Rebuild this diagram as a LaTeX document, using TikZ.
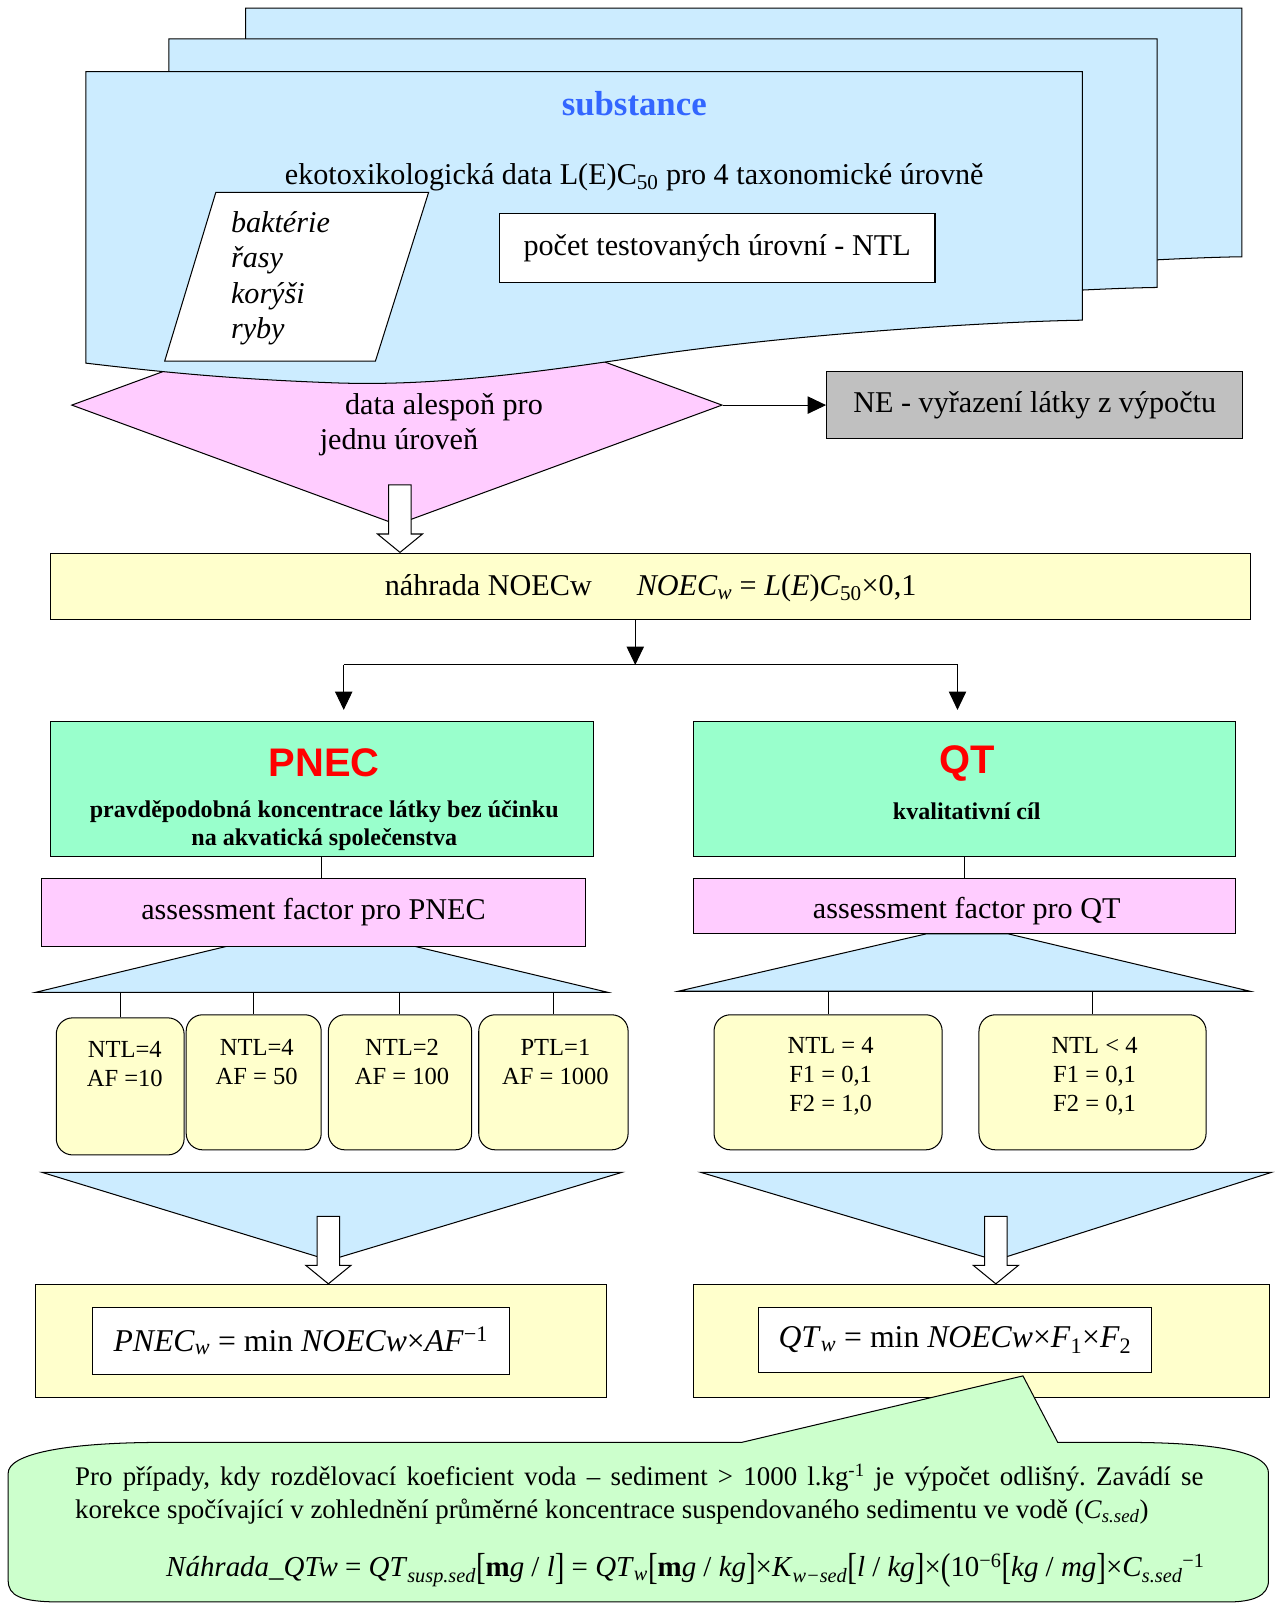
\documentclass[tikz,border=0pt]{standalone}
\usepackage{fontspec}
\usepackage{graphicx}
\setmainfont{Liberation Serif}
\newfontfamily\arialfont{Liberation Sans}
\usetikzlibrary{positioning, arrows.meta, shapes.geometric}

\definecolor{pagebl}{HTML}{CCECFF}
\definecolor{decpink}{HTML}{FFCCFF}
\definecolor{negray}{HTML}{C0C0C0}
\definecolor{resyel}{HTML}{FFFFCC}
\definecolor{titgreen}{HTML}{99FFCC}
\definecolor{notegreen}{HTML}{CCFFCC}
\definecolor{subblue}{HTML}{3366FF}

\newcommand{\bodysize}{\fontsize{29.5}{34.5}\selectfont}
\newcommand{\substsize}{\fontsize{34}{40}\selectfont}
\newcommand{\titlesize}{\fontsize{39}{44}\selectfont}
\newcommand{\subsize}{\fontsize{23.5}{27}\selectfont}
\newcommand{\cellsize}{\fontsize{24}{28}\selectfont}
\newcommand{\notesize}{\fontsize{26.3}{32}\selectfont}
\newcommand{\eqsize}{\fontsize{31}{36}\selectfont}
\newcommand{\noteqsize}{\fontsize{28.3}{34}\selectfont}
\newcommand{\tallbr}[1]{\raisebox{-0.08em}{\scalebox{1}[1.3]{#1}}}

\begin{document}
\begin{tikzpicture}[
x=1pt, y=-1pt, line width=1pt,
font=\bodysize,
box/.style={rectangle, draw, inner sep=2pt, align=center},
rbox/.style={rectangle, draw, fill=resyel, rounded corners=16pt},
arrow/.style={-{Triangle[length=18pt, width=17pt]}},
fan/.style={draw, fill=pagebl},
headline/.style={font=\arialfont\bfseries\titlesize, text=red},
subline/.style={font=\bfseries\subsize, align=center},
cell/.style={font=\cellsize, align=center},
docpage/.pic={\draw[fill=pagebl] (0,0) -- (974,0) -- (974,243)
  .. controls (900,244) and (700,255) .. (541,279)
  .. controls (420,297) and (330,308) .. (236,304)
  .. controls (130,300) and (60,292) .. (0,285) -- cycle;},
hollowarrow/.pic={\draw[fill=white] (-11,0) -- (-11,48) -- (-22,48) -- (0,66)
  -- (22,48) -- (11,48) -- (11,0) -- cycle;}
]
\useasboundingbox (0,0) rectangle (1246,1568);

% decision, half hidden by the pages
\node[diamond, draw, fill=decpink, minimum width=636pt, minimum height=234pt, inner sep=0pt] (chk) at (388,396) {};

% stacked substance pages
\pic at (240,8) {docpage};
\pic[xscale=0.992] at (165,38) {docpage};
\pic at (84,70) {docpage};

\node[font=\bfseries\substsize, text=subblue] (subst) at (620,101) {substance};
\node (ecotox) at (620,173) {ekotoxikologická data L(E)C\textsubscript{50} pro 4 taxonomické úrovně};
\draw[fill=white] (211,188) -- (419,188) -- (367,353) -- (161,353) -- cycle;
\node[font=\bodysize\itshape, align=left, anchor=west] (taxa) at (222,272) {baktérie\\řasy\\korýši\\ryby};
\node[box, fill=white, minimum width=426pt, minimum height=67pt] (ntl) at (701,242.5) {počet testovaných úrovní - NTL};

\node (chk1) at (434,398) {data alespoň pro};
\node (chk2) at (390,432) {jednu úroveň};

\node[box, fill=negray, minimum width=407pt, minimum height=66pt] (ne) at (1011.5,396) {NE - vyřazení látky z výpočtu};
\draw[arrow] (chk.east) -- (ne.west);

\pic at (391,474) {hollowarrow};

% NOEC
\node[box, fill=resyel, minimum width=1173pt, minimum height=65pt] (noec) at (635.5,573.5) {};
\node (noect) at (636,575)
  {náhrada NOECw\hspace{44pt}\textit{NOEC}\textsubscript{\textit{w}} = \textit{L}(\textit{E})\textit{C}\textsubscript{50}×0,1};

\coordinate (split) at (621,650);
\coordinate (lsplit) at (336,650);
\coordinate (rsplit) at (936,650);
\coordinate (pin) at (336,694);
\coordinate (qin) at (936,694);
\draw[arrow] (noec.south -| split) -- (split);
\draw (lsplit) -- (rsplit);
\draw[arrow] (lsplit) -- (pin);
\draw[arrow] (rsplit) -- (qin);

% PNEC / QT headers
\node[box, fill=titgreen, minimum width=531pt, minimum height=132pt] (pnec) at (314.5,771) {};
\node[headline] (pnect) at (317,746) {PNEC};
\node[subline] (pnecs) at (317,807) {pravděpodobná koncentrace látky bez účinku\\na akvatická společenstva};
\node[box, fill=titgreen, minimum width=530pt, minimum height=132pt] (qt) at (943,771) {};
\node[headline] (qtt) at (945,746) {QT};
\node[subline] (qts) at (945,793) {kvalitativní cíl};

% fans
\draw[fan] (222,925) -- (405,925) -- (594,970) -- (35,970) -- cycle;
\draw[fan] (905,913) -- (986,913) -- (1222,969) -- (663,969) -- cycle;
\coordinate (pfan) at (0,970);
\coordinate (qfan) at (0,969);

\node[box, fill=decpink, minimum width=531pt, minimum height=66pt] (afp) at (306.5,892) {assessment factor pro PNEC};
\node[box, fill=decpink, minimum width=530pt, minimum height=54pt] (afq) at (943,886) {};
\node (afqt) at (945,891) {assessment factor pro QT};
\draw (pnec.south) -- (pnec.south |- afp.north);
\draw (qt.south) -- (qt.south |- afq.north);

% factor cells
\node[rbox, minimum width=125pt, minimum height=134pt] (p1) at (117.5,1062) {};
\node[rbox, minimum width=132pt, minimum height=132pt] (p2) at (248,1058) {};
\node[rbox, minimum width=140pt, minimum height=132pt] (p3) at (391,1058) {};
\node[rbox, minimum width=146pt, minimum height=132pt] (p4) at (541,1058) {};
\node[rbox, minimum width=223pt, minimum height=132pt] (q1) at (809.5,1058) {};
\node[rbox, minimum width=222pt, minimum height=132pt] (q2) at (1068,1058) {};
\node[cell] (p1t) at (122,1040) {NTL=4\\AF =10};
\node[cell] (p2t) at (251,1038) {NTL=4\\AF = 50};
\node[cell] (p3t) at (393,1038) {NTL=2\\AF = 100};
\node[cell] (p4t) at (543,1038) {PTL=1\\AF = 1000};
\node[cell] (q1t) at (812,1052) {NTL = 4\\F1 = 0,1\\F2 = 1,0};
\node[cell] (q2t) at (1070,1052) {NTL < 4\\F1 = 0,1\\F2 = 0,1};
\foreach \b in {p1,p2,p3,p4} \draw (\b.north) -- (\b.north |- pfan);
\foreach \b in {q1,q2} \draw (\b.north) -- (\b.north |- qfan);

% lower fans
\draw[fan] (41,1146) -- (608,1146) -- (322,1232) -- cycle;
\draw[fan] (685,1146) -- (1243,1146) -- (973,1232) -- cycle;

% results
\node[box, fill=resyel, minimum width=558pt, minimum height=110pt] (pres) at (314,1311) {};
\node[box, fill=white, minimum width=408pt, minimum height=66pt, font=\eqsize] (pform) at (294,1311)
  {\textit{PNEC}\textsubscript{\textit{w}} = min \textit{NOECw}×\textit{AF}\textsuperscript{−1}};
\node[box, fill=resyel, minimum width=563pt, minimum height=110pt] (qres) at (959.5,1311) {};
\node[box, fill=white, minimum width=385pt, minimum height=64pt, font=\eqsize] (qform) at (933.5,1310)
  {\textit{QT}\textsubscript{\textit{w}} = min \textit{NOECw}×\textit{F}\textsubscript{1}×\textit{F}\textsubscript{2}};
\pic at (321,1189) {hollowarrow};
\pic at (973.5,1189) {hollowarrow};

% note callout
\draw[fill=notegreen] (160,1410) -- (725,1410) -- (1000,1345) -- (1034,1410) -- (1100,1410)
  .. controls (1200,1410) and (1240,1422) .. (1240,1440) -- (1240,1545)
  .. controls (1240,1560) and (1225,1566) .. (1200,1566) -- (60,1566)
  .. controls (20,1566) and (8,1560) .. (8,1545) -- (8,1440)
  .. controls (8,1422) and (60,1410) .. (160,1410) -- cycle;
\node[font=\notesize, text width=1103pt, align=justify, inner sep=0pt, anchor=base west] (note) at (73,1452)
  {\frenchspacing\tolerance=3000 Pro případy, kdy rozdělovací koeficient voda – sediment > 1000 l.kg\textsuperscript{-1} je výpočet odlišný. Zavádí se\linebreak korekce spočívající v zohlednění průměrné koncentrace suspendovaného sedimentu ve vodě (\textit{C}\textsubscript{\textit{s.sed}})};
\node[font=\noteqsize] (qsed) at (670,1535)
  {\textit{Náhrada\_QTw} = \textit{QT}\textsubscript{\textit{susp.sed}}\tallbr{[}\textbf{m}\textit{g} / \textit{l}\tallbr{]} = \textit{QT}\textsubscript{\textit{w}}\tallbr{[}\textbf{m}\textit{g} / \textit{kg}\tallbr{]}×\textit{K}\textsubscript{\textit{w−sed}}\tallbr{[}\textit{l} / \textit{kg}\tallbr{]}×\tallbr{(}10\textsuperscript{−6}\tallbr{[}\textit{kg} / \textit{mg}\tallbr{]}×\textit{C}\textsubscript{\textit{s.sed}}\textsuperscript{−1}};

\end{tikzpicture}
\end{document}
